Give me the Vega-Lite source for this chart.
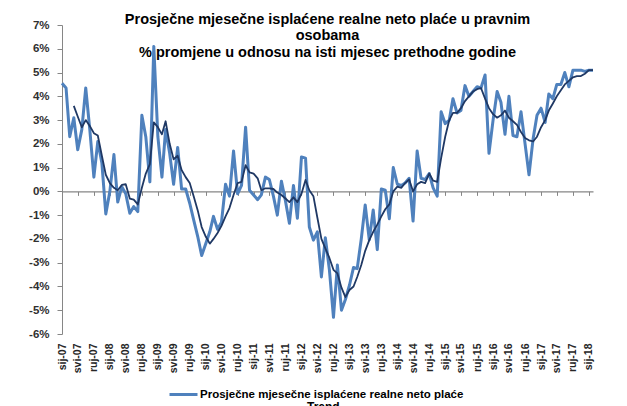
{
  "$schema": "https://vega.github.io/schema/vega-lite/v6.json",
  "autosize": {"type": "none"},
  "width": 531,
  "height": 309,
  "padding": {"left": 62, "top": 25, "right": 34, "bottom": 72},
  "background": "white",
  "config": {
    "view": {"stroke": null},
    "font": "Liberation Sans"
  },
  "title": {
    "text": ["Prosječne  mjesečne isplaćene realne neto plaće u pravnim", "osobama", "% promjene u odnosu na isti mjesec prethodne godine"],
    "font": "Liberation Sans",
    "fontSize": 14.5,
    "fontWeight": "bold",
    "color": "#000000",
    "anchor": "middle",
    "frame": "group",
    "baseline": "alphabetic",
    "lineHeight": 16.5,
    "offset": -52
  },
  "data": {
    "values": [
      {"d": "2007-01-01", "p": 4.55, "t": null},
      {"d": "2007-02-01", "p": 4.35, "t": null},
      {"d": "2007-03-01", "p": 2.3, "t": null},
      {"d": "2007-04-01", "p": 3.1, "t": 3.6},
      {"d": "2007-05-01", "p": 1.75, "t": 3.15},
      {"d": "2007-06-01", "p": 2.6, "t": 2.7},
      {"d": "2007-07-01", "p": 4.35, "t": 3.0},
      {"d": "2007-08-01", "p": 2.6, "t": 2.75},
      {"d": "2007-09-01", "p": 0.6, "t": 2.45},
      {"d": "2007-10-01", "p": 2.1, "t": 2.35},
      {"d": "2007-11-01", "p": 1.2, "t": 1.5},
      {"d": "2007-12-01", "p": -0.95, "t": 0.7},
      {"d": "2008-01-01", "p": 0.0, "t": 0.35},
      {"d": "2008-02-01", "p": 1.55, "t": 0.15},
      {"d": "2008-03-01", "p": -0.45, "t": 0.05},
      {"d": "2008-04-01", "p": 0.2, "t": 0.27},
      {"d": "2008-05-01", "p": -0.1, "t": 0.3},
      {"d": "2008-06-01", "p": -0.92, "t": -0.3},
      {"d": "2008-07-01", "p": -0.64, "t": -0.35},
      {"d": "2008-08-01", "p": -0.85, "t": -0.55},
      {"d": "2008-09-01", "p": 3.2, "t": 0.15},
      {"d": "2008-10-01", "p": 2.3, "t": 0.75},
      {"d": "2008-11-01", "p": 0.4, "t": 1.15},
      {"d": "2008-12-01", "p": 6.1, "t": 2.9},
      {"d": "2009-01-01", "p": 2.3, "t": 2.7},
      {"d": "2009-02-01", "p": 0.6, "t": 2.4},
      {"d": "2009-03-01", "p": 2.6, "t": 2.95},
      {"d": "2009-04-01", "p": 1.6, "t": 2.0},
      {"d": "2009-05-01", "p": 0.3, "t": 1.35},
      {"d": "2009-06-01", "p": 1.85, "t": 1.5},
      {"d": "2009-07-01", "p": 0.1, "t": 0.9},
      {"d": "2009-08-01", "p": 0.1, "t": 0.6},
      {"d": "2009-09-01", "p": -0.5, "t": 0.35},
      {"d": "2009-10-01", "p": -1.2, "t": -0.2},
      {"d": "2009-11-01", "p": -1.9, "t": -0.8},
      {"d": "2009-12-01", "p": -2.7, "t": -1.5},
      {"d": "2010-01-01", "p": -2.2, "t": -1.9},
      {"d": "2010-02-01", "p": -1.7, "t": -2.2},
      {"d": "2010-03-01", "p": -1.05, "t": -2.0},
      {"d": "2010-04-01", "p": -1.6, "t": -1.75},
      {"d": "2010-05-01", "p": -1.3, "t": -1.45},
      {"d": "2010-06-01", "p": 0.3, "t": -1.05},
      {"d": "2010-07-01", "p": -0.2, "t": -0.7},
      {"d": "2010-08-01", "p": 1.7, "t": -0.15},
      {"d": "2010-09-01", "p": -0.1, "t": 0.35},
      {"d": "2010-10-01", "p": 0.25, "t": 0.4},
      {"d": "2010-11-01", "p": 2.7, "t": 1.1},
      {"d": "2010-12-01", "p": 0.05, "t": 0.8},
      {"d": "2011-01-01", "p": -0.15, "t": 0.75},
      {"d": "2011-02-01", "p": -0.35, "t": 0.55},
      {"d": "2011-03-01", "p": -0.15, "t": 0.05},
      {"d": "2011-04-01", "p": 0.6, "t": 0.13},
      {"d": "2011-05-01", "p": 0.5, "t": 0.13},
      {"d": "2011-06-01", "p": -0.2, "t": 0.1},
      {"d": "2011-07-01", "p": -1.0, "t": -0.05},
      {"d": "2011-08-01", "p": 0.43, "t": -0.15},
      {"d": "2011-09-01", "p": -0.4, "t": -0.3},
      {"d": "2011-10-01", "p": -1.34, "t": -0.45},
      {"d": "2011-11-01", "p": 0.25, "t": -0.25},
      {"d": "2011-12-01", "p": -1.13, "t": -0.45},
      {"d": "2012-01-01", "p": 1.45, "t": -0.1},
      {"d": "2012-02-01", "p": 1.4, "t": 0.48},
      {"d": "2012-03-01", "p": -1.5, "t": 0.05},
      {"d": "2012-04-01", "p": -2.05, "t": -0.2},
      {"d": "2012-05-01", "p": -1.7, "t": -1.1},
      {"d": "2012-06-01", "p": -3.6, "t": -2.0},
      {"d": "2012-07-01", "p": -1.95, "t": -2.4},
      {"d": "2012-08-01", "p": -3.3, "t": -2.8},
      {"d": "2012-09-01", "p": -5.3, "t": -3.3},
      {"d": "2012-10-01", "p": -3.1, "t": -3.45},
      {"d": "2012-11-01", "p": -5.0, "t": -4.05},
      {"d": "2012-12-01", "p": -4.55, "t": -4.45},
      {"d": "2013-01-01", "p": -3.95, "t": -4.15},
      {"d": "2013-02-01", "p": -3.2, "t": -4.0},
      {"d": "2013-03-01", "p": -3.25, "t": -3.6},
      {"d": "2013-04-01", "p": -2.0, "t": -3.1},
      {"d": "2013-05-01", "p": -0.57, "t": -2.5},
      {"d": "2013-06-01", "p": -2.04, "t": -2.05},
      {"d": "2013-07-01", "p": -0.78, "t": -1.7},
      {"d": "2013-08-01", "p": -2.45, "t": -1.4},
      {"d": "2013-09-01", "p": 0.1, "t": -1.05},
      {"d": "2013-10-01", "p": 0.05, "t": -0.75},
      {"d": "2013-11-01", "p": -1.15, "t": -0.55},
      {"d": "2013-12-01", "p": 1.0, "t": 0.0},
      {"d": "2014-01-01", "p": 0.3, "t": 0.2},
      {"d": "2014-02-01", "p": 0.25, "t": 0.15},
      {"d": "2014-03-01", "p": 0.35, "t": 0.35},
      {"d": "2014-04-01", "p": 0.55, "t": 0.5},
      {"d": "2014-05-01", "p": -1.25, "t": 0.0},
      {"d": "2014-06-01", "p": 1.7, "t": 0.3},
      {"d": "2014-07-01", "p": 0.55, "t": 0.4},
      {"d": "2014-08-01", "p": 0.5, "t": 0.35},
      {"d": "2014-09-01", "p": 0.75, "t": 0.75},
      {"d": "2014-10-01", "p": 0.15, "t": 0.45},
      {"d": "2014-11-01", "p": -0.2, "t": 0.4},
      {"d": "2014-12-01", "p": 3.35, "t": 1.4},
      {"d": "2015-01-01", "p": 2.85, "t": 2.3},
      {"d": "2015-02-01", "p": 3.0, "t": 3.0},
      {"d": "2015-03-01", "p": 3.9, "t": 3.3},
      {"d": "2015-04-01", "p": 3.3, "t": 3.3},
      {"d": "2015-05-01", "p": 3.4, "t": 3.5},
      {"d": "2015-06-01", "p": 4.45, "t": 3.8},
      {"d": "2015-07-01", "p": 4.0, "t": 4.0},
      {"d": "2015-08-01", "p": 4.2, "t": 4.2},
      {"d": "2015-09-01", "p": 4.4, "t": 4.3},
      {"d": "2015-10-01", "p": 4.35, "t": 4.35},
      {"d": "2015-11-01", "p": 4.9, "t": 3.9},
      {"d": "2015-12-01", "p": 1.6, "t": 3.5},
      {"d": "2016-01-01", "p": 3.0, "t": 3.25},
      {"d": "2016-02-01", "p": 4.2, "t": 3.1},
      {"d": "2016-03-01", "p": 3.75, "t": 3.2},
      {"d": "2016-04-01", "p": 2.4, "t": 3.4},
      {"d": "2016-05-01", "p": 4.0, "t": 3.1},
      {"d": "2016-06-01", "p": 2.35, "t": 2.95},
      {"d": "2016-07-01", "p": 2.3, "t": 2.8},
      {"d": "2016-08-01", "p": 3.35, "t": 2.5},
      {"d": "2016-09-01", "p": 2.0, "t": 2.25},
      {"d": "2016-10-01", "p": 0.7, "t": 2.15},
      {"d": "2016-11-01", "p": 2.2, "t": 2.1},
      {"d": "2016-12-01", "p": 3.2, "t": 2.3},
      {"d": "2017-01-01", "p": 3.5, "t": 2.7},
      {"d": "2017-02-01", "p": 2.9, "t": 3.0},
      {"d": "2017-03-01", "p": 4.1, "t": 3.4},
      {"d": "2017-04-01", "p": 3.9, "t": 3.7},
      {"d": "2017-05-01", "p": 4.5, "t": 4.0},
      {"d": "2017-06-01", "p": 4.5, "t": 4.25},
      {"d": "2017-07-01", "p": 5.0, "t": 4.5},
      {"d": "2017-08-01", "p": 4.4, "t": 4.65},
      {"d": "2017-09-01", "p": 5.1, "t": 4.8},
      {"d": "2017-10-01", "p": 5.1, "t": 4.85},
      {"d": "2017-11-01", "p": 5.1, "t": 4.85},
      {"d": "2017-12-01", "p": 5.05, "t": 4.95},
      {"d": "2018-01-01", "p": 5.1, "t": 5.1},
      {"d": "2018-02-01", "p": 5.1, "t": 5.1}
    ]
  },
  "resolve": {"scale": {"x": "independent"}},
  "layer": [
    {
      "mark": {"type": "line", "strokeWidth": 3, "strokeJoin": "round", "interpolate": "linear"},
      "encoding": {
        "x": {
          "field": "d", "type": "temporal",
          "scale": {"type": "utc", "nice": false, "domain": [{"year": 2007, "month": 1, "date": 1, "utc": true}, {"year": 2018, "month": 2, "date": 1, "utc": true}]},
          "axis": {
            "orient": "bottom", "title": null, "domain": false, "ticks": false, "tickSize": 0, "grid": false,
            "tickCount": {"interval": "month", "step": 4},
            "labelExpr": "['sij','velj','ožu','tra','svi','lip','srp','kol','ruj','lis','stu','pro'][utcmonth(datum.value)] + '-' + utcFormat(datum.value, '%y')",
            "labelAngle": -90, "labelAlign": "right", "labelBaseline": "middle",
            "labelPadding": 9, "labelFont": "Liberation Sans", "labelFontSize": 10.5, "labelFontWeight": "bold",
            "labelColor": "#262626", "labelOverlap": false, "labelFlush": false
          }
        },
        "y": {
          "field": "p", "type": "quantitative",
          "scale": {"domain": [-6, 7], "nice": false, "zero": false},
          "axis": {
            "title": null, "grid": false, "values": [-6, -5, -4, -3, -2, -1, 0, 1, 2, 3, 4, 5, 6, 7],
            "labelExpr": "datum.value + '%'",
            "domainColor": "#868686", "domainWidth": 1, "tickColor": "#868686", "tickSize": 5,
            "labelPadding": 8, "labelFont": "Liberation Sans", "labelFontSize": 11.5, "labelFontWeight": "bold",
            "labelColor": "#303030", "labelFlush": false, "labelOverlap": false
          }
        },
        "color": {
          "datum": "Prosječne mjesečne  isplaćene realne  neto plaće",
          "type": "nominal",
          "scale": {"range": ["#4F81BD"]},
          "legend": {
            "title": null, "orient": "none", "legendX": 106, "legendY": 354, "padding": 0,
            "symbolType": "stroke", "symbolSize": 784, "symbolStrokeWidth": 3, "labelOffset": 1,
            "labelFont": "Liberation Sans", "labelFontSize": 11.5, "labelFontWeight": "bold", "labelColor": "#000000",
            "labelLimit": 400
          }
        }
      }
    },
    {
      "mark": {"type": "line", "strokeWidth": 1.8, "strokeJoin": "round"},
      "encoding": {
        "x": {
          "field": "d", "type": "temporal",
          "scale": {"type": "utc", "nice": false, "domain": [{"year": 2007, "month": 1, "date": 1, "utc": true}, {"year": 2018, "month": 2, "date": 1, "utc": true}]},
          "axis": {
            "orient": "bottom", "offset": -142.62, "title": null, "labels": false, "grid": false,
            "tickCount": {"interval": "month", "step": 4},
            "domainColor": "#868686", "domainWidth": 1.2, "tickColor": "#868686", "tickSize": 4, "tickWidth": 1
          }
        },
        "y": {
          "field": "t", "type": "quantitative",
          "scale": {"domain": [-6, 7], "nice": false, "zero": false},
          "axis": {
            "title": null, "grid": false, "values": [-6, -5, -4, -3, -2, -1, 0, 1, 2, 3, 4, 5, 6, 7],
            "labelExpr": "datum.value + '%'",
            "domainColor": "#868686", "domainWidth": 1, "tickColor": "#868686", "tickSize": 5,
            "labelPadding": 8, "labelFont": "Liberation Sans", "labelFontSize": 11.5, "labelFontWeight": "bold",
            "labelColor": "#303030", "labelFlush": false, "labelOverlap": false
          }
        },
        "stroke": {
          "datum": "Trend",
          "type": "nominal",
          "scale": {"range": ["#1F3864"]},
          "legend": {
            "title": null, "orient": "none", "legendX": 231, "legendY": 376, "padding": 0,
            "symbolType": "stroke", "symbolSize": 64, "symbolStrokeWidth": 1.8, "labelOffset": 2,
            "labelFont": "Liberation Sans", "labelFontSize": 12, "labelFontWeight": "bold", "labelColor": "#000000"
          }
        }
      }
    }
  ]
}
